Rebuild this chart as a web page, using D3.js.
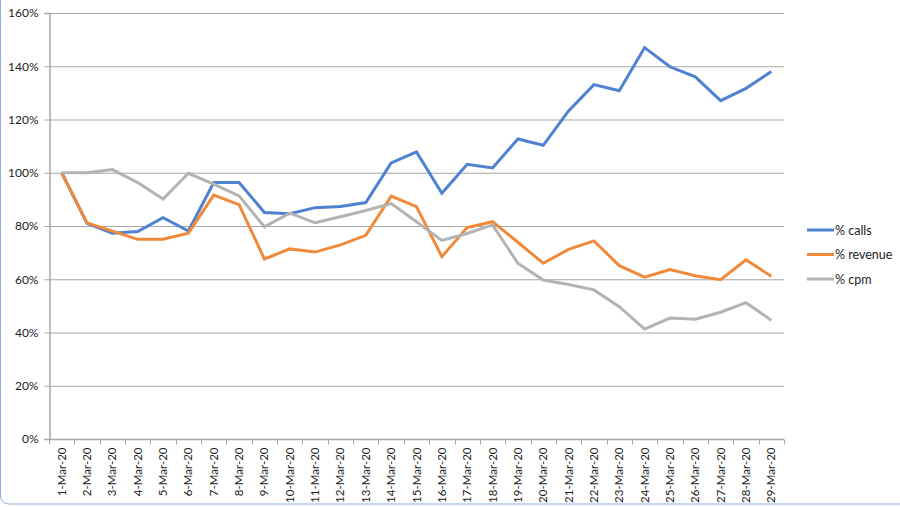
<!DOCTYPE html>
<html>
<head>
<meta charset="utf-8">
<script src="https://cdn.jsdelivr.net/npm/d3@7.9.0/dist/d3.min.js"></script>
<style>
  html, body { margin: 0; padding: 0; background: #fff; }
  svg { display: block; font-family: Lato, "Open Sans", sans-serif; }
</style>
</head>
<body>
<svg id="chart" width="900" height="507"></svg>
<script>
// day labels on the x axis
const days = d3.range(1, 30).map(d => `${d}-Mar-20`);

// series values in percent
const calls = [100, 81, 77.3, 77.9, 83.1, 78.1, 96.3, 96.3, 85.1, 84.6, 86.9, 87.3, 88.8, 103.7, 107.8,
  92.3, 103.2, 101.8, 112.7, 110.3, 123.2, 133.1, 130.8, 147.0, 139.8, 136.0, 127.1, 131.7, 138.0];
const revenue = [100, 81.2, 78.1, 75.0, 75.0, 77.3, 91.6, 88.0, 67.6, 71.4, 70.2, 72.9, 76.5, 91.2, 87.3,
  68.5, 79.4, 81.6, 73.9, 66.0, 71.2, 74.4, 65.1, 60.8, 63.6, 61.3, 59.8, 67.3, 61.1];
const cpm = [100, 100, 101.2, 96.3, 90.1, 99.8, 95.7, 91.3, 79.7, 84.8, 81.2, 83.5, 85.8, 88.4, 81.6,
  74.6, 77.2, 80.4, 66.0, 59.7, 58.0, 56.0, 49.7, 41.3, 45.4, 45.0, 47.6, 51.2, 44.6];

const seriesNames = ['% calls', '% revenue', '% cpm'];
const seriesColors = ['#4e81cf', '#f08a3a', '#b3b3b3'];
const yTicks = [0, 20, 40, 60, 80, 100, 120, 140, 160];

const svg = d3.select('#chart');
const plotLeft = 49, plotRight = 784, plotTop = 13, plotBottom = 439;

// faint frame on the left edge
svg.append('rect')
  .attr('x', 0.5).attr('y', -6).attr('width', 1000).attr('height', 510)
  .attr('rx', 8).attr('fill', 'none').attr('stroke', '#8fb0dc').attr('stroke-width', 1);

const x = d3.scaleBand().domain(days).range([plotLeft, plotRight]);
const y = d3.scaleLinear().domain([0, 160]).range([plotBottom, plotTop]);

// gridlines
svg.append('g')
  .selectAll('line')
  .data(yTicks.slice(1))
  .join('line')
  .attr('x1', plotLeft).attr('x2', plotRight)
  .attr('y1', d => y(d) + 0.5).attr('y2', d => y(d) + 0.5)
  .attr('stroke', '#a6a6a6').attr('stroke-width', 1);

// y axis
const yAxis = svg.append('g')
  .attr('transform', `translate(${plotLeft + 0.5},0)`)
  .call(d3.axisLeft(y).tickValues(yTicks).tickSize(5).tickPadding(6).tickFormat(d => d + '%'));
yAxis.select('.domain').attr('stroke', '#a6a6a6').attr('stroke-width', 1.5);
yAxis.selectAll('.tick line').attr('stroke', '#a6a6a6');
yAxis.selectAll('text').attr('font-size', 12).attr('fill', '#222').attr('font-family', 'Lato, sans-serif');

// x axis: ticks between categories
const xAxis = svg.append('g').attr('transform', `translate(0,${plotBottom + 0.5})`);
xAxis.append('line')
  .attr('x1', plotLeft).attr('x2', plotRight)
  .attr('stroke', '#a6a6a6').attr('stroke-width', 1.5);
xAxis.selectAll('line.tk')
  .data(days.concat(['end']))
  .join('line').attr('class', 'tk')
  .attr('x1', (d, i) => Math.round(plotLeft + i * x.step()) + 0.5)
  .attr('x2', (d, i) => Math.round(plotLeft + i * x.step()) + 0.5)
  .attr('y1', 0).attr('y2', 5)
  .attr('stroke', '#a6a6a6');
xAxis.selectAll('text')
  .data(days)
  .join('text')
  .attr('transform', d => `translate(${x(d) + x.bandwidth() / 2 + 4},8) rotate(-90)`)
  .attr('text-anchor', 'end')
  .attr('font-size', 11.5)
  .attr('fill', '#222')
  .text(d => d);

// lines
const line = d3.line()
  .x((d, i) => x(days[i]) + x.bandwidth() / 2)
  .y(d => y(d));

[calls, revenue, cpm].forEach((vals, k) => {
  svg.append('path')
    .datum(vals)
    .attr('d', line)
    .attr('fill', 'none')
    .attr('stroke', seriesColors[k])
    .attr('stroke-width', 3)
    .attr('stroke-linejoin', 'miter');
});

// legend
const legend = svg.append('g');
seriesNames.forEach((name, k) => {
  const ly = 230 + k * 24.5;
  legend.append('line')
    .attr('x1', 807).attr('x2', 834)
    .attr('y1', ly).attr('y2', ly)
    .attr('stroke', seriesColors[k]).attr('stroke-width', 3);
  legend.append('text')
    .attr('x', 835).attr('y', ly + 4.5)
    .attr('font-size', 12.5).attr('fill', '#222')
    .text(name);
});
</script>
</body>
</html>
